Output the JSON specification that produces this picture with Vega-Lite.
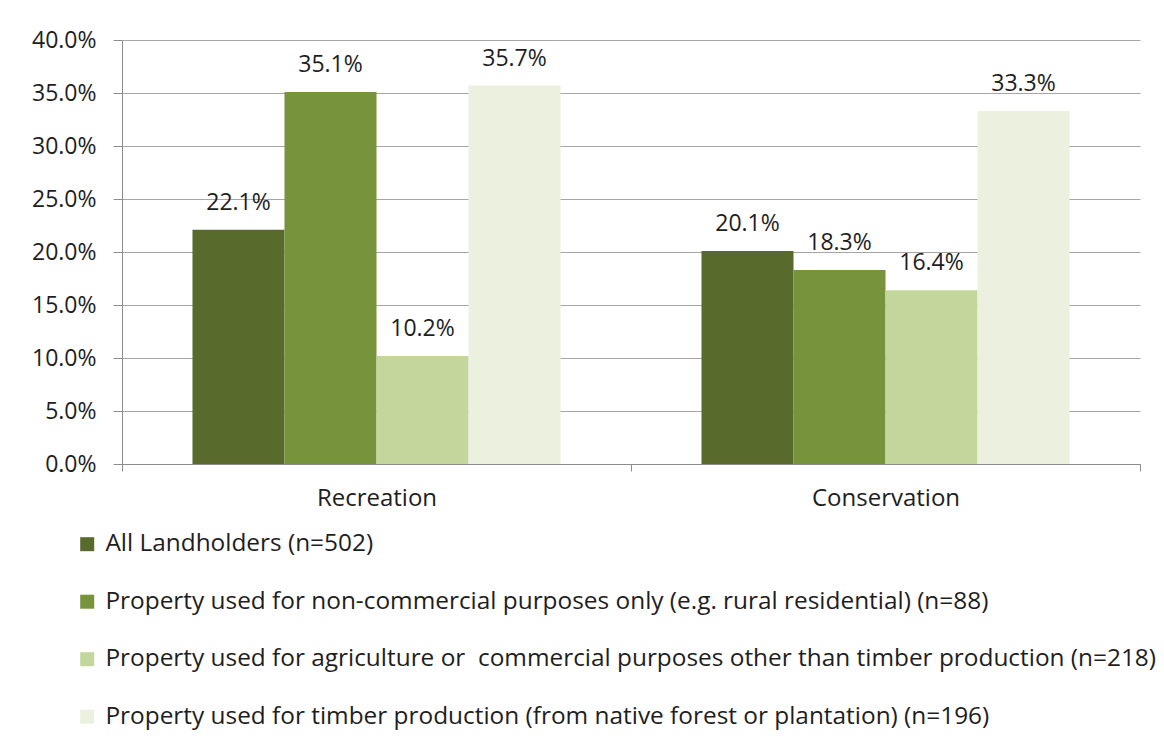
{
  "$schema": "https://vega.github.io/schema/vega-lite/v6.json",
  "autosize": {"type": "none"},
  "width": 1018,
  "height": 424,
  "padding": {"left": 122, "top": 40, "right": 24, "bottom": 283},
  "background": "white",
  "data": {
    "values": [
      {"purpose": "Recreation", "group": "All Landholders (n=502)", "value": 0.221},
      {"purpose": "Recreation", "group": "Property used for non-commercial purposes only (e.g. rural residential) (n=88)", "value": 0.351},
      {"purpose": "Recreation", "group": "Property used for agriculture or\u00a0 commercial purposes other than timber production (n=218)", "value": 0.102},
      {"purpose": "Recreation", "group": "Property used for timber production (from native forest or plantation) (n=196)", "value": 0.357},
      {"purpose": "Conservation", "group": "All Landholders (n=502)", "value": 0.201},
      {"purpose": "Conservation", "group": "Property used for non-commercial purposes only (e.g. rural residential) (n=88)", "value": 0.183},
      {"purpose": "Conservation", "group": "Property used for agriculture or\u00a0 commercial purposes other than timber production (n=218)", "value": 0.164},
      {"purpose": "Conservation", "group": "Property used for timber production (from native forest or plantation) (n=196)", "value": 0.333}
    ]
  },
  "encoding": {
    "x": {
      "field": "purpose", "type": "nominal", "sort": ["Recreation", "Conservation"],
      "scale": {"paddingInner": 0, "paddingOuter": 0},
      "axis": {"title": null, "labelAngle": 0, "labelFontSize": 24, "labelColor": "#1e1e1e", "labelFont": "Open Sans", "labelPadding": 15, "tickBand": "extent", "tickSize": 7, "tickColor": "#8c8c8c", "domainColor": "#8c8c8c", "grid": false}
    },
    "xOffset": {
      "field": "group", "type": "nominal",
      "sort": ["All Landholders (n=502)", "Property used for non-commercial purposes only (e.g. rural residential) (n=88)", "Property used for agriculture or\u00a0 commercial purposes other than timber production (n=218)", "Property used for timber production (from native forest or plantation) (n=196)"],
      "scale": {"paddingInner": 0, "paddingOuter": 0.766}
    },
    "y": {
      "field": "value", "type": "quantitative",
      "scale": {"domain": [0, 0.4], "nice": false},
      "axis": {"title": null, "format": ".1%", "values": [0, 0.05, 0.1, 0.15, 0.2, 0.25, 0.3, 0.35, 0.4], "labelFontSize": 23, "labelColor": "#1e1e1e", "labelFont": "Open Sans", "labelPadding": 17, "tickSize": 9, "tickColor": "#8c8c8c", "domainColor": "#8c8c8c", "gridColor": "#a6a6a6", "gridWidth": 1.2}
    }
  },
  "layer": [
    {
      "mark": {"type": "bar"},
      "encoding": {
        "color": {
          "field": "group", "type": "nominal",
          "sort": ["All Landholders (n=502)", "Property used for non-commercial purposes only (e.g. rural residential) (n=88)", "Property used for agriculture or\u00a0 commercial purposes other than timber production (n=218)", "Property used for timber production (from native forest or plantation) (n=196)"],
          "scale": {"range": ["#596A2D", "#77933C", "#C3D69B", "#EBF1DE"]},
          "legend": {
            "title": null, "orient": "none", "legendX": -47, "legendY": 492,
            "direction": "vertical", "symbolType": "square", "symbolSize": 196,
            "symbolStrokeWidth": 0, "labelFontSize": 24.4, "labelFont": "Open Sans", "labelColor": "#1e1e1e",
            "labelLimit": 0, "rowPadding": 32.5, "labelOffset": 6
          }
        }
      }
    },
    {
      "mark": {"type": "text", "baseline": "alphabetic", "dy": -20, "fontSize": 23, "font": "Open Sans", "color": "#1e1e1e"},
      "encoding": {
        "text": {"field": "value", "type": "quantitative", "format": ".1%"}
      }
    }
  ],
  "config": {"view": {"stroke": null}}
}
